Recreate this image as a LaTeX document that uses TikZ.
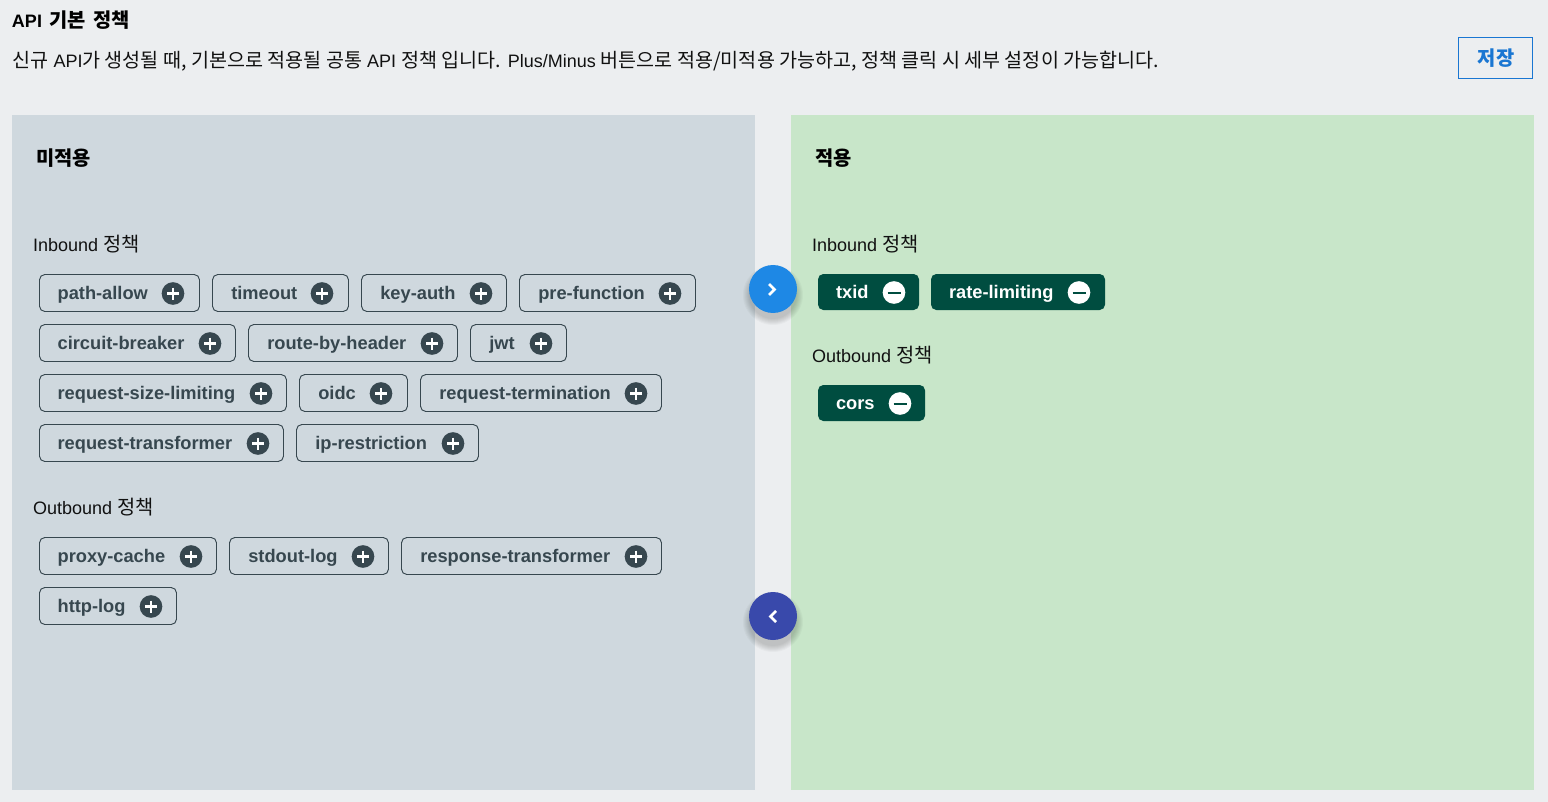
\documentclass[tikz,border=0pt]{standalone}
\usepackage{fontspec}
\setmainfont{Liberation Sans}
\newfontfamily\kr[Scale=1.1]{Noto Sans CJK KR}
\newfontfamily\krd[Scale=1.088]{Noto Sans CJK KR}
\definecolor{pagebg}{HTML}{ECEEF0}
\definecolor{leftbg}{HTML}{CFD8DE}
\definecolor{rightbg}{HTML}{C8E6C9}
\definecolor{slate}{HTML}{37474F}
\definecolor{forest}{HTML}{004D40}
\definecolor{bluebtn}{HTML}{1E88E5}
\definecolor{indigobtn}{HTML}{3949AB}
\definecolor{savebl}{HTML}{1976D2}
\definecolor{inktext}{HTML}{111111}
\tikzset{
  lbl/.style={anchor=base west,inner sep=0pt,outer sep=0pt,text=inktext,font=\fontsize{13.5pt}{16pt}\selectfont},
  ttl/.style={anchor=base west,inner sep=0pt,outer sep=0pt,text=black,font=\fontsize{13.5pt}{16pt}\selectfont\bfseries},
  chiptxt/.style={anchor=base west,inner sep=0pt,outer sep=0pt,font=\fontsize{13.7pt}{16pt}\selectfont\bfseries},
}
\newcommand{\offchip}[6]{% name x0 x1 ytop label circlex
  \draw[slate,line width=0.7pt,rounded corners=4pt] (#2+.5,#4+.5) rectangle (#3-.5,#4+37.5);
  \ifnum#2=39\relax
    \node[chiptxt,text=slate] (#1) at (#2+18.6,#4+25) {#5};
  \else
    \node[chiptxt,text=slate] (#1) at (#2+19.3,#4+25) {#5};
  \fi
  \node[circle,fill=slate,inner sep=0pt,outer sep=0pt,minimum size=17pt] (#1c) at (#6,#4+19.5) {};
  \draw[white,line width=1.6pt] (#6-6,#4+19.5) -- (#6+6,#4+19.5) (#6,#4+13.5) -- (#6,#4+25.5);
}
\newcommand{\onchip}[6]{%
  \fill[forest,rounded corners=4pt] (#2,#4) rectangle (#3,#4+36);
  \node[chiptxt,text=white] (#1) at (#2+18,#4+24) {#5};
  \node[circle,fill=white,inner sep=0pt,outer sep=0pt,minimum size=17pt] (#1c) at (#6,#4+18.5) {};
  \draw[forest,line width=1.5pt] (#6-6.5,#4+18.5) -- (#6+6.5,#4+18.5);
}
\newcommand{\roundbtn}[4]{% name y colour pathcmd
  \foreach \rr in {30,29,28,27,26,25,24}{
    \fill[black,opacity=.028] (773,#2+6) circle[radius=\rr];
  }
  \node[circle,fill=#3,inner sep=0pt,outer sep=0pt,minimum size=36pt] (#1) at (773,#2) {};
  \draw[white,line width=1.9pt] #4;
}
\begin{document}
\begin{tikzpicture}[x=0.75pt,y=-0.75pt]
\useasboundingbox (0,0) rectangle (1548,802);
\fill[pagebg] (0,0) rectangle (1548,802);
\fill[leftbg] (12,115) rectangle (755,790);
\fill[rightbg] (791,115) rectangle (1534,790);

\node[ttl] (title) at (12,28) {API\hspace{2pt} {\kr 기본\hspace{2pt} 정책}};
\node[lbl] (desc) at (12.5,68) {{\krd 신규} API{\krd 가 생성될 때, 기본으로 적용될 공통} API {\krd 정책 입니다.} Plus/Minus {\krd 버튼으로 적용/미적용 가능하고, 정책 클릭 시 세부 설정이 가능합니다.}};
\node[draw=savebl,line width=0.9pt,inner sep=0pt,minimum width=55.5pt,minimum height=30.5pt,text=savebl,font=\fontsize{13.5pt}{16pt}\selectfont\kr\bfseries] (save) at (1495.5,58) {\hspace*{1pt}저장};

\node[ttl] (offtitle) at (36.5,165.5) {\kr 미적용};
\node[ttl] (ontitle) at (815.5,165.5) {\kr 적용};

\node[lbl] (offin) at (33,251.5) {Inbound {\kr 정책}};
\node[lbl] (offout) at (33,514.5) {Outbound {\kr 정책}};
\node[lbl] (onin) at (812,251.5) {Inbound {\kr 정책}};
\node[lbl] (onout) at (812,362.5) {Outbound {\kr 정책}};

\offchip{a1}{39}{200}{274}{path-allow}{173}
\offchip{a2}{212}{349}{274}{timeout}{322}
\offchip{a3}{361}{507}{274}{key-auth}{481}
\offchip{a4}{519}{696}{274}{pre-function}{670}
\offchip{b1}{39}{236}{324}{circuit-breaker}{210}
\offchip{b2}{248}{458}{324}{route-by-header}{432}
\offchip{b3}{470}{567}{324}{jwt}{541}
\offchip{c1}{39}{287}{374}{request-size-limiting}{261}
\offchip{c2}{299}{408}{374}{oidc}{381}
\offchip{c3}{420}{662}{374}{request-termination}{636}
\offchip{d1}{39}{284}{424}{request-transformer}{258}
\offchip{d2}{296}{479}{424}{ip-restriction}{453}
\offchip{e1}{39}{217}{537}{proxy-cache}{191}
\offchip{e2}{229}{389}{537}{stdout-log}{363}
\offchip{e3}{401}{662}{537}{response-transformer}{636}
\offchip{f1}{39}{177}{587}{http-log}{151}

\onchip{g1}{818}{919}{274}{txid}{894}
\onchip{g2}{931}{1105}{274}{rate-limiting}{1079}
\onchip{h1}{818}{925}{385}{cors}{900}

\roundbtn{fwd}{289}{bluebtn}{(769,284) -- (774.5,289.5) -- (769,295)}
\roundbtn{back}{616}{indigobtn}{(776,611) -- (770.5,616.5) -- (776,622)}
\end{tikzpicture}
\end{document}
